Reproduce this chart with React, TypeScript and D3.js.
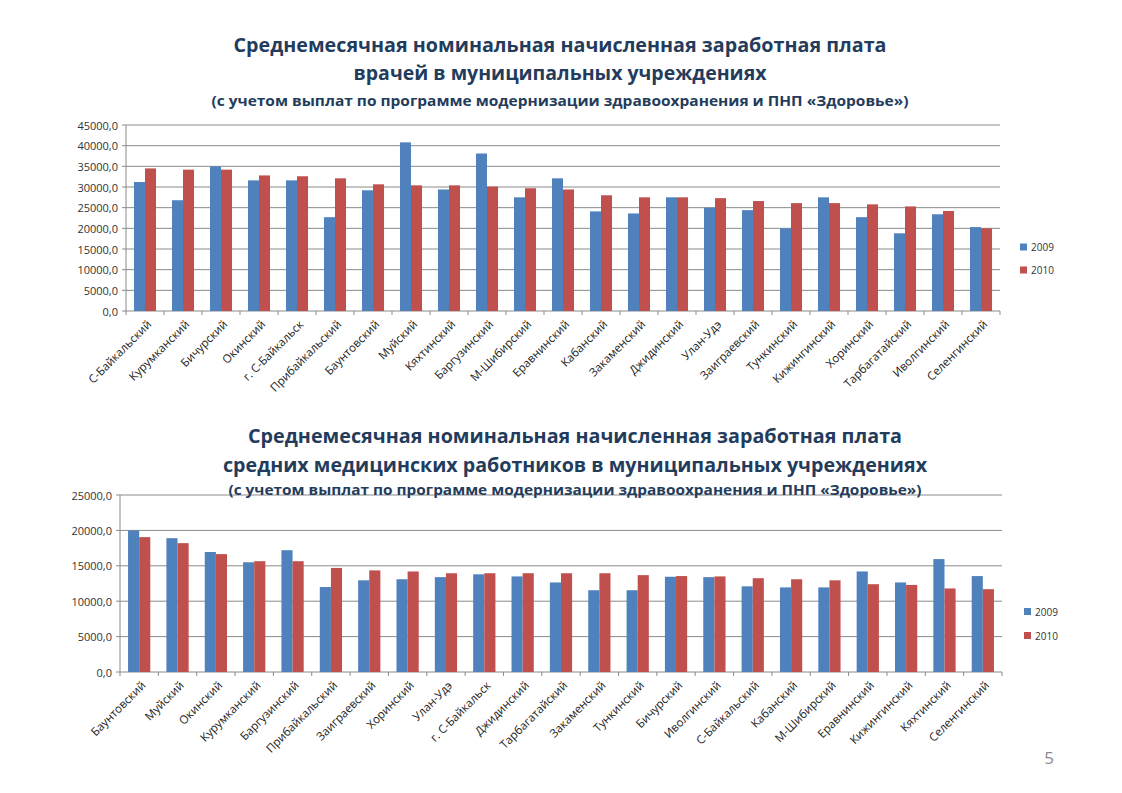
import React from "react";
import * as d3 from "d3";

const topCategories = [
  "С-Байкальский", "Курумканский", "Бичурский", "Окинский", "г. С-Байкальск",
  "Прибайкальский", "Баунтовский", "Муйский", "Кяхтинский", "Баргузинский",
  "М-Шибирский", "Еравнинский", "Кабанский", "Закаменский", "Джидинский",
  "Улан-Удэ", "Заиграевский", "Тункинский", "Кижингинский", "Хоринский",
  "Тарбагатайский", "Иволгинский", "Селенгинский",
];
const top2009 = [
  31200, 26800, 35000, 31600, 31600, 22700, 29200, 40800, 29400, 38100,
  27500, 32100, 24100, 23600, 27500, 25000, 24400, 20000, 27500, 22700,
  18800, 23400, 20300,
];
const top2010 = [
  34500, 34200, 34200, 32800, 32600, 32100, 30650, 30400, 30400, 30100,
  29700, 29400, 28000, 27500, 27500, 27300, 26600, 26100, 26100, 25800,
  25300, 24200, 20000,
];

const bottomCategories = [
  "Баунтовский", "Муйский", "Окинский", "Курумканский", "Баргузинский",
  "Прибайкальский", "Заиграевский", "Хоринский", "Улан-Удэ", "г. С-Байкальск",
  "Джидинский", "Тарбагатайский", "Закаменский", "Тункинский", "Бичурский",
  "Иволгинский", "С-Байкальский", "Кабанский", "М-Шибирский", "Еравнинский",
  "Кижингинский", "Кяхтинский", "Селенгинский",
];
const bottom2009 = [
  20000, 18900, 16950, 15500, 17200, 12000, 12950, 13100, 13400, 13800,
  13500, 12650, 11550, 11550, 13450, 13400, 12100, 11950, 11950, 14200,
  12650, 15950, 13550,
];
const bottom2010 = [
  19050, 18200, 16650, 15650, 15650, 14700, 14350, 14200, 13950, 13950,
  13950, 13950, 13950, 13680, 13550, 13500, 13250, 13100, 12950, 12400,
  12300, 11800, 11700,
];

const seriesNames = ["2009", "2010"];
const topTicks = [0, 5000, 10000, 15000, 20000, 25000, 30000, 35000, 40000, 45000];
const bottomTicks = [0, 5000, 10000, 15000, 20000, 25000];

const topTitle = [
  "Среднемесячная номинальная начисленная заработная плата",
  "врачей в муниципальных учреждениях",
  "(с учетом выплат по программе модернизации здравоохранения и ПНП «Здоровье»)",
];
const bottomTitle = [
  "Среднемесячная номинальная начисленная заработная плата",
  "средних медицинских работников в муниципальных учреждениях",
  "(с учетом выплат по программе модернизации здравоохранения и ПНП «Здоровье»)",
];

const BLUE = "#4F81BD";
const RED = "#C0504D";
const GRID = "#8a8a8a";
const TITLE = "#243c5c";
const FONT = "'Open Sans', 'Noto Sans', sans-serif";

type ChartProps = {
  categories: string[];
  a: number[];
  b: number[];
  ticks: number[];
  x0: number;
  x1: number;
  yTop: number;
  yBottom: number;
  legendX: number;
  legendY: number[];
  title: string[];
  titleX: number;
  titleY: number[];
  titleLen: number[];
};

function Chart(p: ChartProps) {
  const x = d3.scaleBand<string>().domain(p.categories).range([p.x0, p.x1]).padding(0);
  const yMax = p.ticks[p.ticks.length - 1];
  const y = d3.scaleLinear().domain([0, yMax]).range([p.yBottom, p.yTop]);
  const bw = x.bandwidth() * 0.29;
  const fmt = (v: number) => d3.format(".1f")(v).replace(".", ",");
  const bounds = p.categories.map((c) => x(c)!).concat([p.x1]);
  return (
    <g>
      {p.ticks.map((t) => (
        <g key={"g" + t}>
          <line x1={p.x0 - 4} x2={p.x1} y1={y(t)} y2={y(t)} stroke={GRID} strokeWidth={1} />
          <text
            x={p.x0 - 8}
            y={y(t)}
            textAnchor="end"
            dominantBaseline="central"
            fontFamily={FONT}
            fontSize={11}
            fill="#333"
          >
            {fmt(t)}
          </text>
        </g>
      ))}
      {p.title.map((t, i) => (
        <text
          key={"t" + i}
          x={p.titleX}
          y={p.titleY[i]}
          textAnchor="middle"
          dominantBaseline="central"
          fontFamily={FONT}
          fontWeight="bold"
          fontSize={i < 2 ? 19 : 15}
          fill={TITLE}
          textLength={p.titleLen[i]}
          lengthAdjust="spacingAndGlyphs"
        >
          {t}
        </text>
      ))}
      <line x1={p.x0} x2={p.x0} y1={p.yTop} y2={p.yBottom} stroke={GRID} strokeWidth={1} />
      {bounds.map((bx, i) => (
        <line key={"xt" + i} x1={bx} x2={bx} y1={p.yBottom} y2={p.yBottom + 4} stroke={GRID} />
      ))}
      {p.categories.map((c, i) => {
        const cx = x(c)! + x.bandwidth() / 2;
        return (
          <g key={"b" + i}>
            <rect x={cx - bw} y={y(p.a[i])} width={bw} height={p.yBottom - y(p.a[i])} fill={BLUE} />
            <rect x={cx} y={y(p.b[i])} width={bw} height={p.yBottom - y(p.b[i])} fill={RED} />
            <text
              transform={`translate(${cx + 4},${p.yBottom + 11}) rotate(-45)`}
              textAnchor="end"
              dominantBaseline="central"
              fontFamily={FONT}
              fontSize={11.5}
              fill="#222"
            >
              {c}
            </text>
          </g>
        );
      })}
      {seriesNames.map((s, i) => (
        <g key={"l" + i}>
          <rect x={p.legendX} y={p.legendY[i] - 3.5} width={7} height={7} fill={i === 0 ? BLUE : RED} />
          <text
            x={p.legendX + 11}
            y={p.legendY[i]}
            dominantBaseline="central"
            fontFamily={FONT}
            fontSize={10}
            fill="#333"
          >
            {s}
          </text>
        </g>
      ))}
    </g>
  );
}

export default function App() {
  return (
    <svg
      width={1122}
      height={793}
      style={{ position: "absolute", left: 0, top: 0, background: "#fff" }}
    >
      <rect width={1122} height={793} fill="#fff" />
      <Chart
        categories={topCategories}
        a={top2009}
        b={top2010}
        ticks={topTicks}
        x0={126}
        x1={1000}
        yTop={125}
        yBottom={311}
        legendX={1020}
        legendY={[247, 270]}
        title={topTitle}
        titleX={560}
        titleY={[45, 73, 100]}
        titleLen={[653, 413, 697]}
      />
      <Chart
        categories={bottomCategories}
        a={bottom2009}
        b={bottom2010}
        ticks={bottomTicks}
        x0={120}
        x1={1002}
        yTop={495}
        yBottom={672}
        legendX={1024}
        legendY={[611.5, 635.5]}
        title={bottomTitle}
        titleX={575}
        titleY={[436, 465, 489]}
        titleLen={[654, 704, 693]}
      />
      <text x={1049} y={757} textAnchor="middle" dominantBaseline="central" fontFamily={FONT} fontSize={17} fill="#8c8c8c">
        5
      </text>
    </svg>
  );
}
